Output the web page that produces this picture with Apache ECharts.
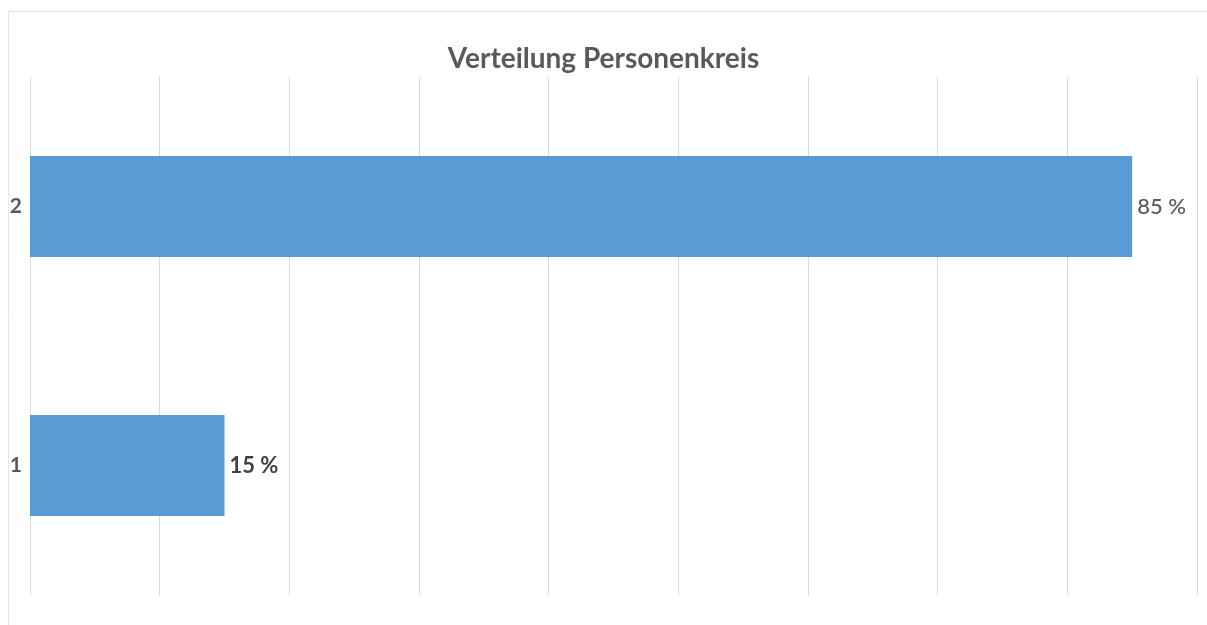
<!DOCTYPE html>
<html>
<head>
<meta charset="utf-8">
<script src="https://cdn.jsdelivr.net/npm/echarts@6/dist/echarts.min.js"></script>
<style>
  html, body { margin: 0; padding: 0; background: #fff; }
  #chart { width: 1207px; height: 625px; }
</style>
</head>
<body>
<div id="chart"></div>
<script>
// Verteilung Personenkreis
const categories = ['1', '2']
const values = [15, 85]
const boldLabel = [true, false]

const chart = echarts.init(document.getElementById('chart'))

const option = {
  backgroundColor: '#fff',
  animation: false,
  graphic: [{
    type: 'rect',
    shape: { x: 8.5, y: 11.5, width: 1210, height: 700 },
    style: { fill: 'none', stroke: '#e6e6e6', lineWidth: 1 },
    silent: true
  }],
  title: {
    text: 'Verteilung Personenkreis',
    left: 'center',
    top: 40,
    textStyle: {
      fontFamily: 'Lato',
      fontSize: 28,
      fontWeight: 'bold',
      color: '#595959'
    }
  },
  grid: { left: 30, right: 10, top: 77, bottom: 30, containLabel: false },
  xAxis: {
    type: 'value',
    min: 0,
    max: 90,
    interval: 10,
    axisLabel: { show: false },
    axisLine: { show: false },
    axisTick: { show: false },
    splitLine: { lineStyle: { color: '#d9d9d9', width: 1 } }
  },
  yAxis: {
    type: 'category',
    data: categories,
    axisLine: { show: false },
    axisTick: { show: false },
    axisLabel: {
      margin: 8,
      fontFamily: 'Lato',
      fontSize: 21,
      fontWeight: 'bold',
      color: '#595959'
    }
  },
  series: [{
    type: 'bar',
    data: values,
    barWidth: 101,
    itemStyle: { color: '#5b9bd5' },
    label: {
      show: true,
      position: 'right',
      distance: 5,
      formatter: p => (boldLabel[p.dataIndex] ? '{b|' : '{n|') + p.value + ' %}',
      rich: {
        b: { fontFamily: 'Lato', fontSize: 22, fontWeight: 'bold', color: '#404040' },
        n: { fontFamily: 'Lato', fontSize: 22, fontWeight: 500, color: '#595959' }
      }
    }
  }]
}

chart.setOption(option)
</script>
</body>
</html>
